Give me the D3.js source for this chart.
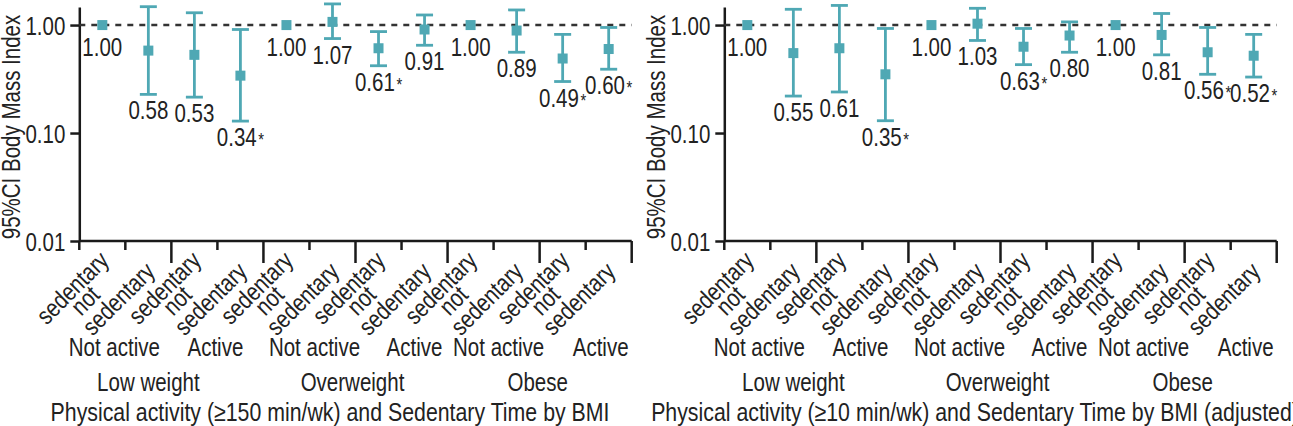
<!DOCTYPE html>
<html>
<head>
<meta charset="utf-8">
<script src="https://cdn.jsdelivr.net/npm/d3@7"></script>
<style>
body { margin: 0; background: #fff; }
#chart { width: 1293px; height: 426px; overflow: hidden; }
text { font-family: 'Liberation Sans', Arial, sans-serif; font-size: 25px; fill: #222; }
</style>
</head>
<body>
<div id="chart"></div>
<script>
//Datos
const tickLabels = ['sedentary\nnot', 'sedentary', 'sedentary\nnot', 'sedentary', 'sedentary\nnot', 'sedentary',
    'sedentary\nnot', 'sedentary', 'sedentary\nnot', 'sedentary', 'sedentary\nnot', 'sedentary'];
const activityLabels = ['Not active', 'Active', 'Not active', 'Active', 'Not active', 'Active'];
const bmiLabels = ['Low weight', 'Overweight', 'Obese'];
const yTicks = [0.01, 0.1, 1];

// >=150 min/wk
const est150 = [1.00, 0.58, 0.53, 0.34, 1.00, 1.07, 0.61, 0.91, 1.00, 0.89, 0.49, 0.60];
const lo150 = [null, 0.228, 0.215, 0.129, null, 0.75, 0.42, 0.65, null, 0.56, 0.30, 0.39];
const hi150 = [null, 1.48, 1.30, 0.91, null, 1.57, 0.87, 1.24, null, 1.38, 0.82, 0.95];
const sig150 = [0, 0, 0, 1, 0, 0, 1, 0, 0, 0, 1, 1];

// >=10 min/wk (adjusted)
const est10 = [1.00, 0.55, 0.61, 0.35, 1.00, 1.03, 0.63, 0.80, 1.00, 0.81, 0.56, 0.52];
const lo10 = [null, 0.22, 0.24, 0.13, null, 0.72, 0.43, 0.56, null, 0.53, 0.35, 0.33];
const hi10 = [null, 1.40, 1.52, 0.93, null, 1.43, 0.93, 1.07, null, 1.28, 0.95, 0.82];
const sig10 = [0, 0, 0, 1, 0, 0, 1, 0, 0, 0, 1, 1];

//Colores
const COLOR_POINT = '#4FA8B4',
    COLOR_AXIS = '#1a1a1a',
    COLOR_REF = '#333333';

//Fuente estrecha: Liberation Sans comprimida en horizontal
const SX = 0.82;

//Ajustes de las etiquetas de grupo
const activityNudge = [-11, -2, 5, 13, 5, 15];
const bmiNudge = [-23, -3, -2];

let svg = d3.select('#chart')
    .append('svg')
        .attr('width', 1293)
        .attr('height', 426);

let x = d3.scaleBand()
    .domain(d3.range(tickLabels.length))
    .range([79.3, 631.7]);

let y = d3.scaleLog()
    .domain([0.01, 1.47])
    .range([241, 7]);

function addText(parent, px, py, str, anchor, extra) {
    return parent.append('text')
        .attr('transform', 'translate(' + px + ',' + py + ')' + (extra || '') + ' scale(' + SX + ',1)')
        .attr('text-anchor', anchor || 'middle')
        .text(str);
}

function drawPanel(offset, est, lo, hi, sig, title) {
    let g = svg.append('g').attr('transform', 'translate(' + offset + ',0)');
    let x0 = x.range()[0], x1 = x.range()[1], yBase = y.range()[0];

    //Eje Y
    let yAxis = g.append('g')
        .attr('transform', 'translate(' + x0 + ',0)')
        .call(d3.axisLeft(y)
            .tickValues(yTicks)
            .tickFormat(d3.format('.2f'))
            .tickSize(9)
            .tickPadding(5)
            .tickSizeOuter(0));
    yAxis.select('.domain').attr('stroke', COLOR_AXIS).attr('stroke-width', 2.5);
    yAxis.selectAll('.tick line').attr('stroke', COLOR_AXIS).attr('stroke-width', 2.5);
    yAxis.selectAll('.tick text')
        .attr('x', null)
        .attr('dy', '0.36em')
        .attr('transform', 'translate(-14,0) scale(' + SX + ',1)');

    addText(g, 20, 127, '95%CI Body Mass Index', 'middle', ' rotate(-90)');

    //Eje X
    g.append('line')
        .attr('x1', x0).attr('x2', x1)
        .attr('y1', yBase).attr('y2', yBase)
        .attr('stroke', COLOR_AXIS)
        .attr('stroke-width', 2.5);

    let bounds = d3.range(tickLabels.length + 1);
    g.selectAll('.xtick')
        .data(bounds)
        .enter().append('line')
        .attr('class', 'xtick')
        .attr('x1', d => d < tickLabels.length ? x(d) : x1)
        .attr('x2', d => d < tickLabels.length ? x(d) : x1)
        .attr('y1', yBase)
        .attr('y2', d => yBase + (d > 0 && d % 2 === 0 ? 22 : 9))
        .attr('stroke', COLOR_AXIS)
        .attr('stroke-width', 2.5);

    //Etiquetas rotadas
    tickLabels.forEach(function(lab, i) {
        let lines = lab.split('\n');
        let cx = x(i) + x.bandwidth() / 2;
        let lg = g.append('g')
            .attr('transform', 'translate(' + (cx + 8) + ',' + (yBase + (lines.length > 1 ? 21 : 32)) + ') rotate(-45)');
        let first = addText(lg, 0, 0, lines[0], 'end');
        if (lines.length > 1) {
            let w = first.node().getComputedTextLength() * SX;
            addText(lg, -w / 2, 18, lines[1], 'middle');
        }
    });

    activityLabels.forEach(function(d, i) {
        addText(g, (x(i * 2) + x(i * 2 + 1) + x.bandwidth()) / 2 + activityNudge[i], 356, d);
    });

    bmiLabels.forEach(function(d, i) {
        addText(g, x(i * 4) + x.bandwidth() * 2 + bmiNudge[i], 391, d);
    });

    addText(g, 330, 421, title).style('font-size', '26px');

    //Linea de referencia
    g.append('line')
        .attr('x1', x0).attr('x2', x1)
        .attr('y1', y(1)).attr('y2', y(1))
        .attr('stroke', COLOR_REF)
        .attr('stroke-width', 2.5)
        .attr('stroke-dasharray', '6,6');

    //Intervalos y puntos
    est.forEach(function(v, i) {
        let cx = x(i) + x.bandwidth() / 2;
        if (lo[i] !== null) {
            g.append('line')
                .attr('x1', cx).attr('x2', cx)
                .attr('y1', y(lo[i])).attr('y2', y(hi[i]))
                .attr('stroke', COLOR_POINT).attr('stroke-width', 2.8);
            [lo[i], hi[i]].forEach(function(c) {
                g.append('line')
                    .attr('x1', cx - 8.5).attr('x2', cx + 8.5)
                    .attr('y1', y(c)).attr('y2', y(c))
                    .attr('stroke', COLOR_POINT).attr('stroke-width', 2.8);
            });
        }
        g.append('rect')
            .attr('x', cx - 5).attr('y', y(v) - 5)
            .attr('width', 10).attr('height', 10)
            .attr('fill', COLOR_POINT);

        let t = addText(g, cx, lo[i] !== null ? y(lo[i]) + 25 : y(v) + 31, null);
        t.append('tspan').text(d3.format('.2f')(v));
        if (sig[i]) {
            t.append('tspan').attr('dx', 2).style('font-size', '18px').text('*');
        }
    });
}

drawPanel(0, est150, lo150, hi150, sig150, 'Physical activity (\u2265150 min/wk) and Sedentary Time by BMI');
drawPanel(645, est10, lo10, hi10, sig10, 'Physical activity (\u226510 min/wk) and Sedentary Time by BMI (adjusted)');
</script>
</body>
</html>
